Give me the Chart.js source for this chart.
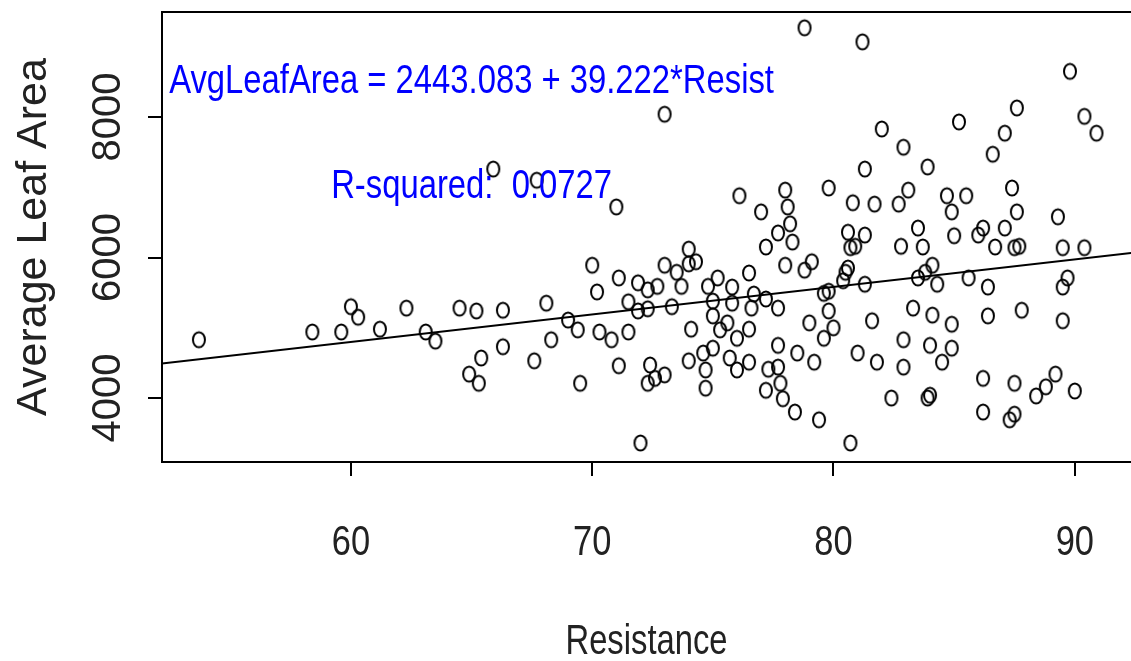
<!DOCTYPE html>
<html>
<head>
<meta charset="utf-8">
<script src="https://cdn.jsdelivr.net/npm/chart.js@4.4.1/dist/chart.umd.min.js"></script>
<style>
  html, body { margin: 0; padding: 0; background: #fff; }
</style>
</head>
<body>
<canvas id="myChart" width="1131" height="661"></canvas>
<script>
// values
let resistance = [
  53.7, 58.4, 59.6, 60.0, 60.3, 61.2, 62.3, 63.1, 63.5, 64.5,
  65.2, 65.4, 64.9, 65.3, 65.9, 66.3, 66.3, 67.6, 67.7, 68.1,
  68.3, 69.0, 69.4, 69.5, 70.0, 70.2, 70.3, 70.8, 71.0, 71.1,
  71.1, 71.5, 71.5, 71.9, 71.9, 72.0, 72.3, 72.3, 72.3, 72.4,
  72.6, 72.7, 73.0, 73.0, 73.0, 73.3, 73.5, 73.7, 74.0, 74.0,
  74.3, 74.1, 74.0, 74.6, 74.7, 74.7, 74.8, 75.0, 75.0, 75.0,
  75.2, 75.3, 75.6, 75.7, 75.8, 75.8, 76.0, 76.0, 76.1, 76.5,
  76.6, 76.5, 76.5, 76.7, 77.0, 77.2, 77.2, 77.2, 77.3, 77.7,
  77.7, 77.7, 77.7, 77.8, 77.9, 78.0, 78.1, 78.2, 78.3, 78.0,
  78.8, 79.1, 78.4, 78.5, 78.8, 79.0, 79.2, 79.4, 79.6, 79.8,
  80.0, 79.6, 79.8, 79.8, 80.4, 80.5, 80.6, 80.6, 81.3, 80.7,
  80.9, 80.7, 80.8, 81.0, 81.2, 81.3, 81.3, 81.6, 81.7, 81.8,
  82.0, 82.4, 82.7, 82.8, 82.9, 82.9, 82.9, 83.1, 83.3, 83.5,
  83.5, 83.7, 83.8, 83.9, 83.9, 84.0, 84.0, 84.1, 84.1, 84.3,
  84.5, 84.7, 84.9, 84.9, 84.9, 85.0, 85.2, 85.5, 85.6, 86.0,
  86.2, 86.2, 86.2, 86.4, 86.4, 86.6, 86.7, 87.1, 87.1, 87.4,
  87.3, 87.5, 87.5, 87.5, 87.7, 87.6, 87.6, 87.8, 88.4, 88.8,
  89.2, 89.3, 89.5, 89.5, 89.7, 89.5, 89.8, 90.0, 90.4, 90.4,
  90.9
];
let leafArea = [
  4830, 4940, 4940, 5300, 5150, 4980, 5280, 4940, 4810, 5280,
  5240, 4570, 4340, 4210, 7260, 5250, 4730, 4530, 7100, 5350,
  4830, 5110, 4970, 4210, 5890, 5510, 4940, 4830, 6720, 4460,
  5710, 5370, 4940, 5640, 5240, 3360, 5540, 4210, 5270, 4470,
  4280, 5590, 8040, 5890, 4330, 5300, 5790, 5590, 6120, 5910,
  5940, 4980, 4530, 4640, 4400, 4140, 5590, 5380, 5170, 4710,
  5710, 4970, 5070, 4570, 5580, 5350, 4850, 4400, 6880, 5780,
  5280, 4980, 4510, 5480, 6650, 6150, 5410, 4110, 4410, 4440,
  6350, 5280, 4750, 4210, 3990, 6960, 6720, 6480, 6220, 5890,
  5820, 5940, 3800, 4640, 9270, 5070, 4510, 3690, 4850, 5240,
  5000, 5490, 5520, 6990, 5670, 5790, 5850, 6360, 6320, 6140,
  6160, 3360, 6780, 4640, 9070, 7260, 5620, 5100, 6760, 4510,
  7830, 4000, 6760, 6160, 7570, 4830, 4440, 6960, 5280, 5710,
  6420, 6150, 5790, 7290, 4000, 4750, 4040, 5890, 5180, 5620,
  4510, 6880, 5050, 6650, 4710, 6310, 7930, 6880, 5710, 6320,
  6420, 4280, 3800, 5580, 5170, 7470, 6150, 7770, 6420, 6990,
  3690, 3770, 4210, 6140, 6160, 8130, 6650, 5250, 4030, 4160,
  4340, 6580, 6140, 5580, 5710, 5100, 8650, 4100, 8010, 6140,
  7770
];

// fitted line end points (AvgLeafArea = 2443.083 + 39.222*Resist)
let fitX = [52, 93];
let fitY = [4483, 6091];

let xTicks = [60, 70, 80, 90];
let yTicks = [4000, 5000, 6000, 7000, 8000, 9000];
let yTickLabels = ['4000', '', '6000', '', '8000', ''];

let xTitle = 'Resistance';
let yTitle = 'Average Leaf Area';
let equationText = 'AvgLeafArea = 2443.083 + 39.222*Resist';
let rsqText = 'R-squared:  0.0727';

let plain = "'Liberation Sans', Arial, sans-serif";

// open circle, a bit taller than wide like in the picture
let dot = document.createElement('canvas');
dot.width = 16;
dot.height = 20;
let dctx = dot.getContext('2d');
dctx.strokeStyle = '#000';
dctx.lineWidth = 2;
dctx.beginPath();
dctx.ellipse(8, 10, 6, 7.6, 0, 0, 2 * Math.PI);
dctx.stroke();

let points = resistance.map((x, i) => ({x: x, y: leafArea[i]}));
let fitLine = fitX.map((x, i) => ({x: x, y: fitY[i]}));

// horizontal text in the source is squeezed sideways
function squeezed(c, text, x, y, sx) {
  c.save();
  c.translate(x, y);
  c.scale(sx, 1);
  c.fillText(text, 0, 0);
  c.restore();
}

function noPad(s) {
  s.paddingTop = 0;
  s.paddingBottom = 0;
  s.paddingLeft = 0;
  s.paddingRight = 0;
}

const framePlugin = {
  id: 'frame',
  beforeDraw(chart) {
    const c = chart.ctx;
    c.save();
    c.fillStyle = '#fff';
    c.fillRect(0, 0, chart.width, chart.height);
    c.restore();
  },
  afterDraw(chart) {
    const a = chart.chartArea;
    const c = chart.ctx;
    const xs = chart.scales.x, ys = chart.scales.y;
    c.save();
    c.strokeStyle = '#000';
    c.lineWidth = 2;
    c.beginPath();
    c.moveTo(a.right + 5, a.top);
    c.lineTo(a.left, a.top);
    c.lineTo(a.left, a.bottom);
    c.lineTo(a.right + 5, a.bottom);
    c.stroke();

    c.textAlign = 'center';
    c.textBaseline = 'middle';

    // x tick labels and title
    c.fillStyle = '#222';
    c.font = '42px ' + plain;
    xs.ticks.forEach(t => {
      squeezed(c, String(t.value), xs.getPixelForValue(t.value), a.bottom + 81, 0.82);
    });
    squeezed(c, xTitle, (a.left + a.right) / 2, a.bottom + 180, 0.78);

    // annotation text
    c.fillStyle = '#0000ff';
    c.font = '40px ' + plain;
    squeezed(c, equationText, xs.getPixelForValue(65), ys.getPixelForValue(8500), 0.82);
    squeezed(c, rsqText, xs.getPixelForValue(65), ys.getPixelForValue(7000), 0.82);
    c.restore();
  }
};

const config = {
  type: 'scatter',
  data: {
    datasets: [{
      label: 'Leaf area',
      data: points,
      pointStyle: dot,
      pointRadius: 7,
      backgroundColor: 'rgba(0,0,0,0)',
      borderColor: '#000'
    }, {
      type: 'line',
      label: 'Fit',
      data: fitLine,
      borderColor: '#000',
      borderWidth: 2,
      pointRadius: 0,
      fill: false
    }]
  },
  options: {
    responsive: false,
    animation: false,
    devicePixelRatio: 1,
    layout: { autoPadding: false, padding: { top: 12, right: 0, left: 0, bottom: 0 } },
    plugins: {
      legend: { display: false },
      tooltip: { enabled: false }
    },
    scales: {
      x: {
        type: 'linear',
        min: 52.17,
        max: 92.33,
        afterFit: s => { s.height = 199; noPad(s); },
        afterBuildTicks: s => { s.ticks = xTicks.map(v => ({value: v})); },
        grid: { drawOnChartArea: false, drawTicks: true, tickLength: 14, color: '#000', lineWidth: 2 },
        border: { display: false },
        ticks: { display: false }
      },
      y: {
        type: 'linear',
        min: 3089,
        max: 9495,
        afterFit: s => { s.width = 162; noPad(s); },
        afterBuildTicks: s => { s.ticks = yTicks.map(v => ({value: v})); },
        grid: { drawOnChartArea: false, drawTicks: true, tickLength: 14, color: '#000', lineWidth: 2 },
        border: { display: false },
        ticks: {
          minRotation: 90,
          maxRotation: 90,
          crossAlign: 'center',
          padding: -5,
          color: '#222',
          font: { family: plain, size: 40 },
          callback: (v, i) => yTickLabels[i]
        },
        title: {
          display: true,
          text: yTitle,
          color: '#222',
          font: { family: plain, size: 43, lineHeight: 1 },
          padding: { top: 13, bottom: 0 }
        }
      }
    }
  },
  plugins: [framePlugin]
};

var ctx = document.getElementById('myChart');
var mychart = new Chart(ctx, config);
</script>
</body>
</html>
